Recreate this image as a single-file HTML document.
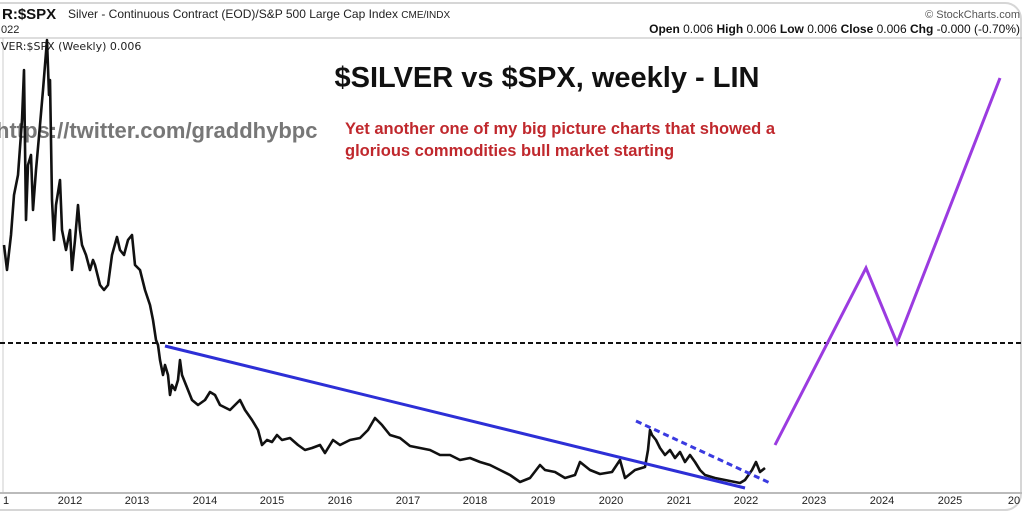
<!DOCTYPE html>
<html><head><meta charset="utf-8"><style>
body{margin:0;background:#fff;width:1024px;height:518px;overflow:hidden;font-family:"Liberation Sans",sans-serif}
</style></head><body>
<svg width="1024" height="518" xmlns="http://www.w3.org/2000/svg" font-family="Liberation Sans, sans-serif">
<rect x="-20" y="3" width="1041" height="507" rx="16" fill="#fff" stroke="#d6d6d6" stroke-width="2"/>
<text x="2" y="19" font-size="15" font-weight="bold" fill="#111">R:$SPX</text>
<text x="68" y="18" font-size="12" fill="#222">Silver - Continuous Contract (EOD)/S&amp;P 500 Large Cap Index <tspan font-size="10">CME/INDX</tspan></text>
<text x="1" y="33" font-size="11" fill="#222">022</text>
<text x="1020" y="18" font-size="11" fill="#555" text-anchor="end">© StockCharts.com</text>
<text x="1020" y="33" font-size="12" fill="#111" text-anchor="end"><tspan font-weight="bold">Open</tspan> 0.006  <tspan font-weight="bold">High</tspan> 0.006  <tspan font-weight="bold">Low</tspan> 0.006  <tspan font-weight="bold">Close</tspan> 0.006  <tspan font-weight="bold">Chg</tspan> -0.000 (-0.70%)</text>
<line x1="0" y1="38" x2="1022" y2="38" stroke="#bbb" stroke-width="1"/>
<line x1="3" y1="38" x2="3" y2="493" stroke="#ccc"/>
<text x="1" y="50" font-family="DejaVu Sans, sans-serif" font-size="11" fill="#222">VER:$SPX (Weekly) 0.006</text>
<line x1="0" y1="493" x2="1022" y2="493" stroke="#bbb" stroke-width="2"/>
<g font-size="11" fill="#222" text-anchor="middle">
<text x="6" y="504">1</text><text x="70" y="504">2012</text><text x="137" y="504">2013</text><text x="205" y="504">2014</text><text x="272" y="504">2015</text><text x="340" y="504">2016</text><text x="408" y="504">2017</text><text x="475" y="504">2018</text><text x="543" y="504">2019</text><text x="611" y="504">2020</text><text x="679" y="504">2021</text><text x="746" y="504">2022</text><text x="814" y="504">2023</text><text x="882" y="504">2024</text><text x="950" y="504">2025</text><text x="1014" y="504">20</text>
</g>
<text x="547" y="87" font-size="29" font-weight="bold" fill="#111" text-anchor="middle">$SILVER vs $SPX, weekly - LIN</text>
<text x="-4" y="138" font-size="22" font-weight="bold" fill="#777">https://twitter.com/graddhybpc</text>
<text x="345" y="134" font-size="16.5" font-weight="bold" fill="#c0282d">Yet another one of my big picture charts that showed a</text>
<text x="345" y="156" font-size="16.5" font-weight="bold" fill="#c0282d">glorious commodities bull market starting</text>
<line x1="0" y1="343" x2="1022" y2="343" stroke="#111" stroke-width="2" stroke-dasharray="5,3"/>
<polyline fill="none" stroke="#111" stroke-width="2.6" stroke-linejoin="round" points="4,245 7,270 11,235 14,195 18,175 22,120 24,70 26,220 28,165 31,155 33,210 36,170 40,125 43,90 45,65 47,40 49,95 50,80 52,200 54,240 56,205 60,180 62,230 66,250 70,230 72,270 75,240 78,205 80,230 82,245 86,255 90,270 93,260 95,265 100,285 104,290 108,285 112,255 117,237 120,250 124,255 128,240 132,235 135,265 140,270 145,290 150,305 153,320 156,340 158,345 160,360 163,375 165,365 168,375 170,395 172,385 175,390 178,380 180,360 182,375 186,385 192,400 198,405 205,400 210,392 215,395 220,405 230,410 235,405 240,400 245,410 252,420 258,430 262,445 267,440 272,442 277,435 282,440 290,438 298,445 305,450 312,448 320,445 325,453 333,440 340,445 350,440 360,438 368,430 375,418 382,425 390,435 400,438 410,446 420,448 430,450 440,455 450,455 460,460 470,458 480,462 490,465 500,470 510,475 520,482 530,478 540,465 545,470 555,472 565,478 575,475 580,462 590,470 600,474 612,472 620,460 625,478 635,470 645,467 648,450 650,430 652,435 656,440 660,448 665,455 670,450 675,458 680,452 685,462 690,455 695,462 700,470 705,475 715,478 725,480 740,483 745,480 752,470 756,462 760,472 765,468"/>
<line x1="165" y1="346" x2="745" y2="488" stroke="#2d2fd6" stroke-width="3"/>
<line x1="636" y1="421" x2="770" y2="483" stroke="#3a3ae0" stroke-width="3" stroke-dasharray="6,4"/>
<polyline fill="none" stroke="#9b3be0" stroke-width="3" points="775,445 866,268 897,343 1000,78"/>
</svg>
</body></html>
